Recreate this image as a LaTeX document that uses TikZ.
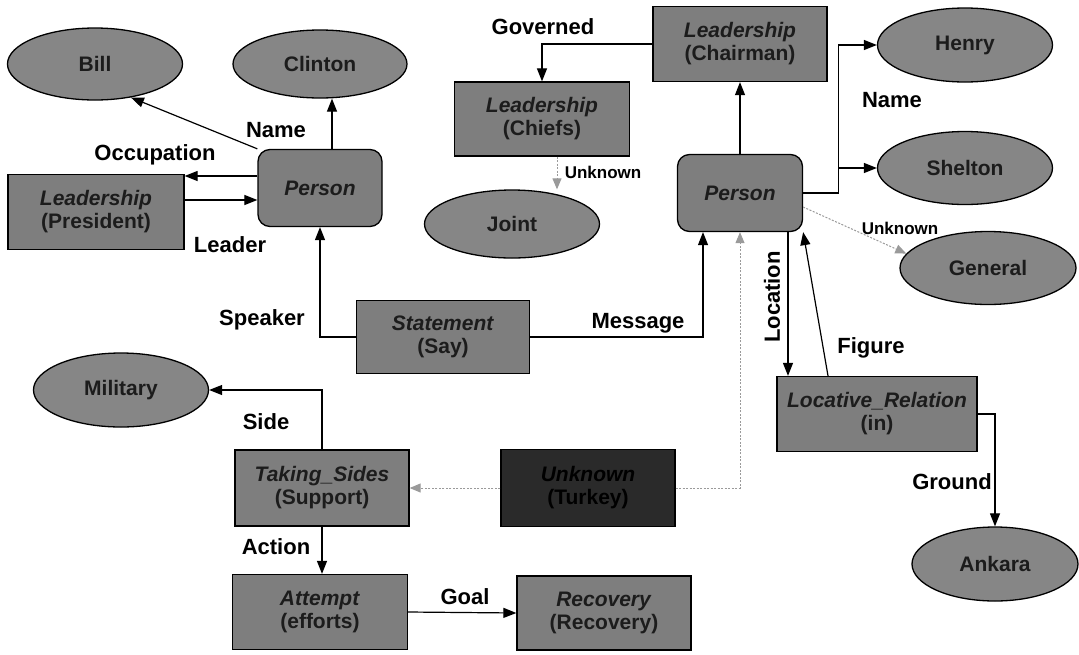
\documentclass[tikz,border=0pt]{standalone}
\usepackage{fontspec}
\setmainfont{Liberation Sans}
\usetikzlibrary{arrows.meta,shapes.geometric}

\definecolor{boxgray}{HTML}{7E7E7E}
\definecolor{ovalgray}{HTML}{868686}
\definecolor{darkbox}{HTML}{2A2A2A}
\definecolor{inktext}{HTML}{1C1C1C}
\definecolor{faintline}{HTML}{9A9A9A}

\begin{document}
\begin{tikzpicture}[x=1pt,y=-1pt,
  nodefont/.style={font=\fontsize{21}{23}\selectfont\bfseries},
  framebox/.style={draw=black, line width=1.3pt, fill=boxgray, text=inktext,
    inner sep=0pt, align=center, nodefont},
  personbox/.style={framebox, rounded corners=12pt},
  oval/.style={ellipse, draw=black, line width=1.3pt, fill=ovalgray, text=inktext,
    inner sep=0pt, nodefont},
  edgelabel/.style={font=\fontsize{22}{24}\selectfont\bfseries, inner sep=0pt},
  smalllabel/.style={font=\fontsize{17}{19}\selectfont\bfseries, inner sep=0pt},
  arr/.style={draw=black, line width=1.2pt, -{Triangle[length=13pt,width=10pt]}},
  dotarr/.style={draw=faintline, line width=1pt, dash pattern=on 2pt off 1.5pt,
    -{Triangle[length=11pt,width=9pt,fill=faintline]}}
]
\useasboundingbox (0,0) rectangle (1079,654);

% entity ellipses
\node[oval, minimum width=175pt, minimum height=72pt] (bill) at (95,64) {Bill};
\node[oval, minimum width=174pt, minimum height=68pt] (clinton) at (320,64) {Clinton};
\node[oval, minimum width=175pt, minimum height=68pt] (joint) at (512,224) {Joint};
\node[oval, minimum width=175pt, minimum height=74pt] (henry) at (965,45) {Henry};
\node[oval, minimum width=175pt, minimum height=73pt] (shelton) at (965,168) {Shelton};
\node[oval, minimum width=176pt, minimum height=73pt] (general) at (988,268) {General};
\node[oval, minimum width=175pt, minimum height=74pt] (military) at (121,390) {Military};
\node[oval, minimum width=166pt, minimum height=74pt] (ankara) at (995,564) {Ankara};

% frame boxes
\node[framebox, minimum width=176pt, minimum height=75pt] (president) at (96,212)
  {\textit{Leadership}\\(President)};
\node[personbox, minimum width=124pt, minimum height=77pt] (personL) at (320,188)
  {\textit{Person}};
\node[framebox, minimum width=175pt, minimum height=74pt] (chiefs) at (542,119)
  {\textit{Leadership}\\(Chiefs)};
\node[framebox, minimum width=174pt, minimum height=75pt] (chairman) at (740,44)
  {\textit{Leadership}\\(Chairman)};
\node[personbox, minimum width=125pt, minimum height=77pt] (personR) at (740,193)
  {\textit{Person}};
\node[framebox, minimum width=173pt, minimum height=73pt] (statement) at (443,337)
  {\textit{Statement}\\(Say)};
\node[framebox, minimum width=200pt, minimum height=75pt] (locative) at (877,414)
  {\textit{Locative\_Relation}\\(in)};
\node[framebox, minimum width=174pt, minimum height=76pt] (sides) at (322,488)
  {\textit{Taking\_Sides}\\(Support)};
\node[framebox, fill=darkbox, text=black, minimum width=174pt, minimum height=77pt] (unknown) at (588,488)
  {\textit{Unknown}\\(Turkey)};
\node[framebox, minimum width=175pt, minimum height=75pt] (attempt) at (320,612)
  {\textit{Attempt}\\(efforts)};
\node[framebox, minimum width=174pt, minimum height=74pt] (recovery) at (604,613)
  {\textit{Recovery}\\(Recovery)};

% connectors around the left Person
\draw[arr] (personL.north west) -- (bill.-43);
\draw[arr] ([xshift=12pt]personL.north) -- ([xshift=12pt]clinton.south);
\draw[arr] ([yshift=12pt]personL.west) -- ([yshift=12pt]personL.west -| president.east);
\draw[arr] ([yshift=-12pt]personL.west -| president.east) -- ([yshift=-12pt]personL.west);
\draw[arr] (statement.west) -| (personL.south);

% connectors around the right Person
\draw[arr] (statement.east) -| ([xshift=-37pt]personR.south);
\draw[arr] (personR.north) -- (chairman.south);
\draw[arr] (chairman.west) -| (chiefs.north);
\draw[dotarr] ([xshift=15pt]chiefs.south) -- ([xshift=15pt]chiefs.south |- joint.north);
\draw[arr] (personR.east) -- ++(35,0) |- (henry.west);
\draw[arr] (personR.east) -- ++(35,0) |- (shelton.west);
\draw[dotarr] ([yshift=-14pt]personR.east) -- (general.170);
\draw[arr] ([xshift=48pt]personR.south) -- ([xshift=48pt]personR.south |- locative.north);
\draw[arr] ([xshift=-49pt]locative.north) -- (personR.south east);
\draw[arr] (locative.east) -| (ankara.north);

% lower connectors
\draw[arr] (sides.north) |- (military.east);
\draw[dotarr] (unknown.west) -- (sides.east);
\draw[dotarr] (unknown.east) -| (personR.south);
\draw[arr] (sides.south) -- (sides.south |- attempt.north);
\draw[arr] (attempt.east) -- (recovery.west);

% role labels
\node[edgelabel] (lname1) at (276,130) {Name};
\node[edgelabel] (loccup) at (155,155) {Occupation};
\node[edgelabel] (lleader) at (230,245) {Leader};
\node[edgelabel] (lspeaker) at (262,320) {Speaker};
\node[edgelabel] (lmessage) at (638,323) {Message};
\node[edgelabel] (lgoverned) at (543,27) {Governed};
\node[smalllabel] (lunk1) at (603,172) {Unknown};
\node[edgelabel] (lname2) at (892,100) {Name};
\node[smalllabel] (lunk2) at (900,228) {Unknown};
\node[edgelabel, rotate=90] (llocation) at (772,297) {Location};
\node[edgelabel] (lfigure) at (871,348) {Figure};
\node[edgelabel] (lground) at (952,482) {Ground};
\node[edgelabel] (lside) at (266,422) {Side};
\node[edgelabel] (laction) at (276,547) {Action};
\node[edgelabel] (lgoal) at (465,597) {Goal};
\end{tikzpicture}
\end{document}
